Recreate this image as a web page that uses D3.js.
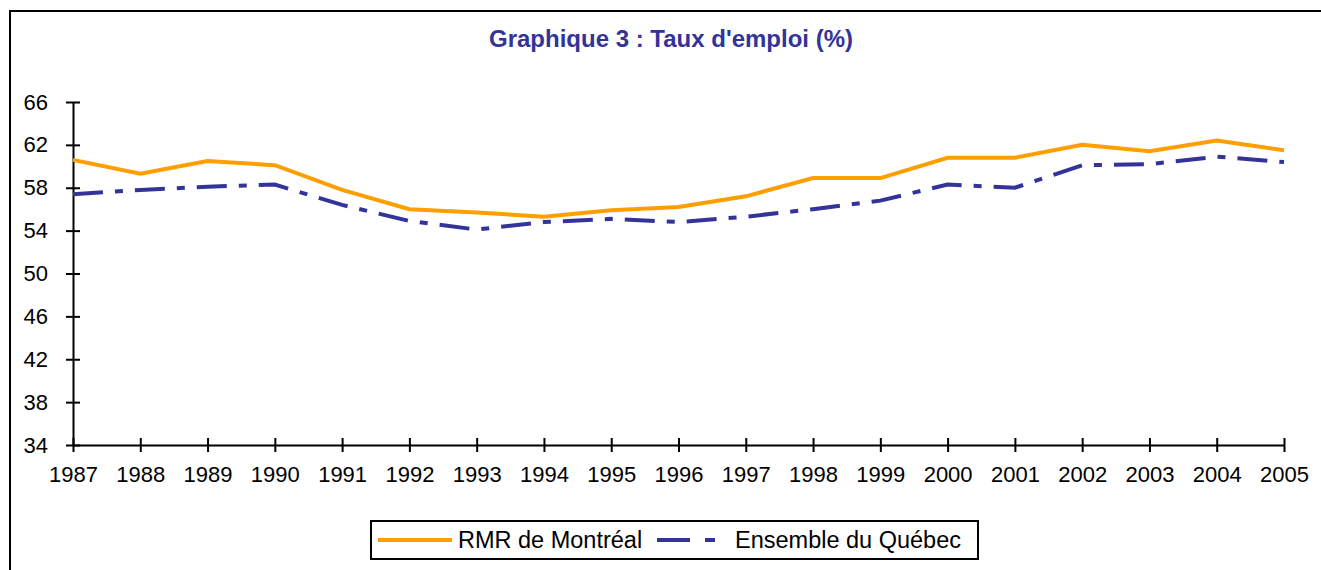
<!DOCTYPE html>
<html><head><meta charset="utf-8">
<script src="https://cdn.jsdelivr.net/npm/d3@7"></script>
<style>body{margin:0;background:#fff}svg{display:block}text{font-family:"Liberation Sans",Arial,sans-serif}</style>
</head><body><svg id="c" width="1321" height="570"></svg>
<script>
const years = [1987,1988,1989,1990,1991,1992,1993,1994,1995,1996,1997,1998,1999,2000,2001,2002,2003,2004,2005];
const montreal = [60.6,59.3,60.5,60.1,57.8,56.0,55.7,55.3,55.9,56.2,57.2,58.9,58.9,60.8,60.8,62.0,61.4,62.4,61.5];
const quebec = [57.4,57.8,58.1,58.3,56.4,54.9,54.1,54.8,55.1,54.8,55.3,56.0,56.8,58.3,58.0,60.1,60.2,60.9,60.4];
const yTicks = [34,38,42,46,50,54,58,62,66];
const seriesNames = ["RMR de Montréal","Ensemble du Québec"];
const title = "Graphique 3 : Taux d'emploi (%)";

const svg = d3.select("#c");
const orange = "#FF9E00", blue = "#333399";
svg.append("path").attr("d","M10,570 V11 H1321").attr("fill","none").attr("stroke","#000").attr("stroke-width",2);

const x = d3.scalePoint().domain(years).range([73,1284]);
const y = d3.scaleLinear().domain([34,66]).range([445,102]);

svg.append("text").attr("x",671).attr("y",47).attr("text-anchor","middle")
  .style("font-size","24px").attr("font-weight","bold").attr("fill",blue).text(title);

const yAxis = svg.append("g").attr("transform","translate(73,0)")
  .call(d3.axisLeft(y).tickValues(yTicks).tickSizeInner(7).tickSizeOuter(0).tickPadding(18));
yAxis.selectAll(".tick line").attr("x1",7).attr("x2",-7);
const xAxis = svg.append("g").attr("transform","translate(0,445)")
  .call(d3.axisBottom(x).tickSizeInner(7).tickSizeOuter(0).tickPadding(14));
xAxis.selectAll(".tick line").attr("y1",-7).attr("y2",7);
[yAxis,xAxis].forEach(a=>{
  a.attr("font-size",null).attr("font-family",null);
  a.selectAll("path,line").attr("stroke","#000").attr("stroke-width",2);
  a.selectAll("text").style("font-size","22px").attr("fill","#000");
});

const line = d3.line().x((d,i)=>x(years[i])).y(d=>y(d));
svg.append("path").datum(quebec).attr("d",line).attr("fill","none").attr("stroke",blue)
  .attr("stroke-width",4).attr("stroke-dasharray","30,12,8,12");
svg.append("path").datum(montreal).attr("d",line).attr("fill","none").attr("stroke",orange)
  .attr("stroke-width",4);

const lg = svg.append("g");
lg.append("rect").attr("x",371).attr("y",521).attr("width",607).attr("height",38)
  .attr("fill","#fff").attr("stroke","#000").attr("stroke-width",2);
lg.append("line").attr("x1",378).attr("x2",452).attr("y1",540).attr("y2",540).attr("stroke",orange).attr("stroke-width",4);
lg.append("text").attr("x",458).attr("y",548).style("font-size","23.5px").text(seriesNames[0]);
lg.append("line").attr("x1",657).attr("x2",727).attr("y1",540).attr("y2",540).attr("stroke",blue).attr("stroke-width",4).attr("stroke-dasharray","33,15,10,40");
lg.append("text").attr("x",735).attr("y",548).style("font-size","23.5px").text(seriesNames[1]);
</script></body></html>
